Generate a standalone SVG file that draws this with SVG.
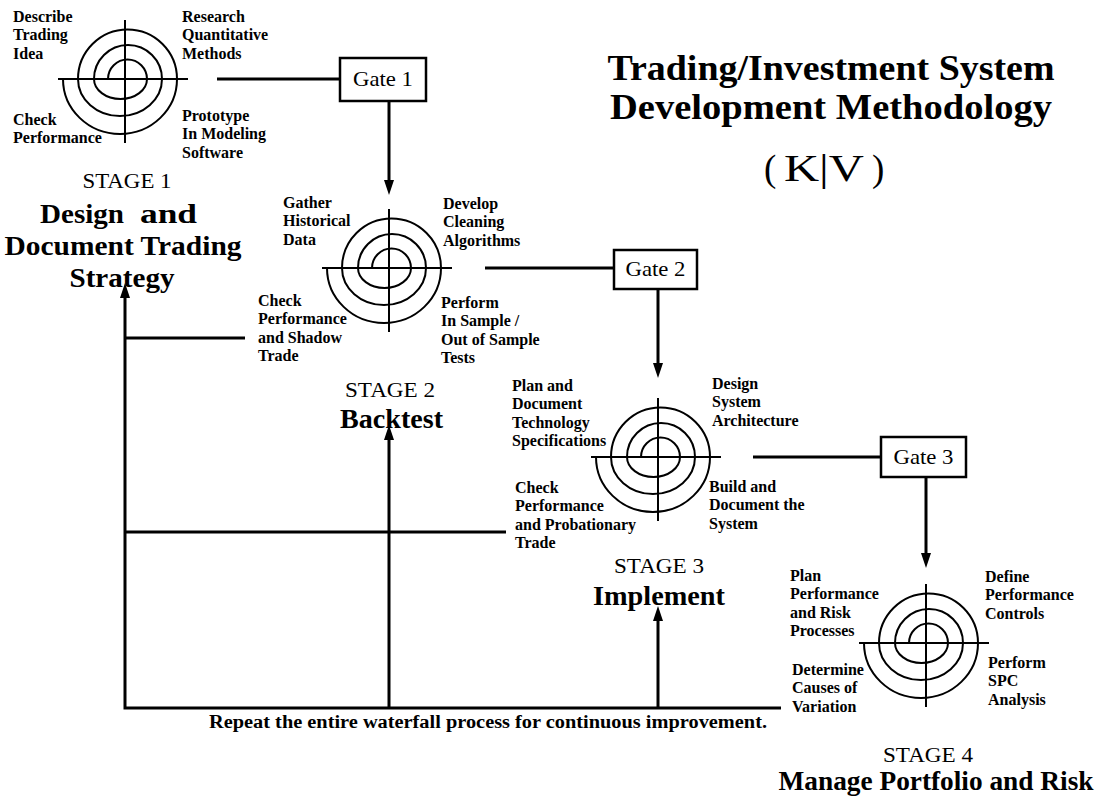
<svg xmlns="http://www.w3.org/2000/svg" xmlns:xlink="http://www.w3.org/1999/xlink" width="1101" height="800" viewBox="0 0 1101 800">
<style>
.lbl{font-family:"Liberation Serif","Times New Roman",serif;font-weight:bold;font-size:16px;fill:#000}
.stg{font-family:"Liberation Serif","Times New Roman",serif;font-size:21px;fill:#000;text-anchor:middle}
.nm{font-family:"Liberation Serif","Times New Roman",serif;font-weight:bold;font-size:28px;fill:#000;text-anchor:middle}
.gt{font-family:"Liberation Serif","Times New Roman",serif;font-size:21px;fill:#000;text-anchor:middle}
.ttl{font-family:"Liberation Serif","Times New Roman",serif;font-weight:bold;font-size:36px;fill:#000;text-anchor:middle}
.kv{font-family:"Liberation Serif","Times New Roman",serif;font-size:37px;fill:#000}
.note{font-family:"Liberation Serif","Times New Roman",serif;font-weight:bold;font-size:18px;fill:#000}
.sp{fill:none;stroke:#000;stroke-width:2}
.box{fill:#fff;stroke:#000;stroke-width:2.5}
.con{fill:none;stroke:#000;stroke-width:3;stroke-linejoin:miter}
.arr{marker-end:url(#ah)}
</style>
<defs>
<marker id="ah" markerUnits="userSpaceOnUse" viewBox="0 0 16 12" markerWidth="16" markerHeight="12" refX="7" refY="6" orient="auto">
<path d="M0,1 L15,6 L0,11 z" fill="#000"/>
</marker>
<g id="spiral">
<path class="sp" d="M-17,0 A19.5,19.5 0 0 1 22,0 A26.5,20 0 0 1 -31,0 A34,34 0 0 1 37,0 A42,37 0 0 1 -47,0 A49.5,49.5 0 0 1 52,0 A57,55 0 0 1 -62,0"/>
<path class="sp" stroke-width="2.5" d="M0,-59 V64 M-67,0 H63"/>
</g>
</defs>
<rect width="1101" height="800" fill="#fff"/>

<g id="title">
<text class="ttl" x="831" y="80" textLength="447" lengthAdjust="spacingAndGlyphs">Trading/Investment System</text>
<text class="ttl" x="831" y="119" textLength="442" lengthAdjust="spacingAndGlyphs">Development Methodology</text>
<text class="kv" y="181"><tspan x="764">(</tspan><tspan x="784" textLength="80" lengthAdjust="spacingAndGlyphs">K|V</tspan><tspan x="872">)</tspan></text>
</g>

<g id="connectors">
<path class="con" d="M217,79 H340"/>
<path class="con arr" d="M389,101 V187"/>
<path class="con" d="M485,268 H614"/>
<path class="con arr" d="M658,289 V370"/>
<path class="con" d="M753,457 H881"/>
<path class="con arr" d="M926,477 V560"/>
<path class="con arr" d="M781,708 H125 V291"/>
<path class="con" d="M125,338 H245"/>
<path class="con" d="M125,532 H506"/>
<path class="con arr" d="M389,708 V433"/>
<path class="con arr" d="M658,708 V614"/>
<text class="note" x="209" y="728" textLength="558" lengthAdjust="spacingAndGlyphs">Repeat the entire waterfall process for continuous improvement.</text>
</g>

<g id="gate1">
<rect class="box" x="340" y="58" width="86" height="43"/>
<text class="gt" x="383" y="86" textLength="60" lengthAdjust="spacingAndGlyphs">Gate 1</text>
</g>
<g id="gate2">
<rect class="box" x="614" y="250" width="83" height="39"/>
<text class="gt" x="655.5" y="276" textLength="60" lengthAdjust="spacingAndGlyphs">Gate 2</text>
</g>
<g id="gate3">
<rect class="box" x="881" y="437" width="85" height="40"/>
<text class="gt" x="923.5" y="464" textLength="60" lengthAdjust="spacingAndGlyphs">Gate 3</text>
</g>

<g id="stage1">
<use xlink:href="#spiral" href="#spiral" x="125" y="79"/>
<text class="lbl" x="13" y="22"><tspan x="13">Describe</tspan><tspan x="13" dy="18.3">Trading</tspan><tspan x="13" dy="18.3">Idea</tspan></text>
<text class="lbl" x="182" y="22"><tspan x="182">Research</tspan><tspan x="182" dy="18.3">Quantitative</tspan><tspan x="182" dy="18.3">Methods</tspan></text>
<text class="lbl" x="13" y="125"><tspan x="13">Check</tspan><tspan x="13" dy="18.3">Performance</tspan></text>
<text class="lbl" x="182" y="121"><tspan x="182">Prototype</tspan><tspan x="182" dy="18.3">In Modeling</tspan><tspan x="182" dy="18.3">Software</tspan></text>
<text class="stg" x="127" y="188" textLength="89" lengthAdjust="spacingAndGlyphs">STAGE 1</text>
<text class="nm" y="223" text-anchor="start" style="text-anchor:start"><tspan x="40" textLength="84" lengthAdjust="spacingAndGlyphs">Design</tspan><tspan x="140" textLength="57" lengthAdjust="spacingAndGlyphs">and</tspan></text>
<text class="nm" x="123" y="255" textLength="237" lengthAdjust="spacingAndGlyphs">Document Trading</text>
<text class="nm" x="122" y="287" textLength="105" lengthAdjust="spacingAndGlyphs">Strategy</text>
</g>

<g id="stage2">
<use xlink:href="#spiral" href="#spiral" x="389" y="268"/>
<text class="lbl" x="283" y="208"><tspan x="283">Gather</tspan><tspan x="283" dy="18.3">Historical</tspan><tspan x="283" dy="18.3">Data</tspan></text>
<text class="lbl" x="443" y="209"><tspan x="443">Develop</tspan><tspan x="443" dy="18.3">Cleaning</tspan><tspan x="443" dy="18.3">Algorithms</tspan></text>
<text class="lbl" x="258" y="306"><tspan x="258">Check</tspan><tspan x="258" dy="18.3">Performance</tspan><tspan x="258" dy="18.3">and Shadow</tspan><tspan x="258" dy="18.3">Trade</tspan></text>
<text class="lbl" x="441" y="308"><tspan x="441">Perform</tspan><tspan x="441" dy="18.3">In Sample /</tspan><tspan x="441" dy="18.3">Out of Sample</tspan><tspan x="441" dy="18.3">Tests</tspan></text>
<text class="stg" x="390" y="397" textLength="90" lengthAdjust="spacingAndGlyphs">STAGE 2</text>
<text class="nm" x="391.5" y="428" textLength="103" lengthAdjust="spacingAndGlyphs">Backtest</text>
</g>

<g id="stage3">
<use xlink:href="#spiral" href="#spiral" x="658" y="457"/>
<text class="lbl" x="512" y="391"><tspan x="512">Plan and</tspan><tspan x="512" dy="18.3">Document</tspan><tspan x="512" dy="18.3">Technology</tspan><tspan x="512" dy="18.3">Specifications</tspan></text>
<text class="lbl" x="712" y="389"><tspan x="712">Design</tspan><tspan x="712" dy="18.3">System</tspan><tspan x="712" dy="18.3">Architecture</tspan></text>
<text class="lbl" x="515" y="493"><tspan x="515">Check</tspan><tspan x="515" dy="18.3">Performance</tspan><tspan x="515" dy="18.3">and Probationary</tspan><tspan x="515" dy="18.3">Trade</tspan></text>
<text class="lbl" x="709" y="492"><tspan x="709">Build and</tspan><tspan x="709" dy="18.3">Document the</tspan><tspan x="709" dy="18.3">System</tspan></text>
<text class="stg" x="659" y="573" textLength="90" lengthAdjust="spacingAndGlyphs">STAGE 3</text>
<text class="nm" x="659" y="605" textLength="132" lengthAdjust="spacingAndGlyphs">Implement</text>
</g>

<g id="stage4">
<use xlink:href="#spiral" href="#spiral" x="926" y="643"/>
<text class="lbl" x="790" y="581"><tspan x="790">Plan</tspan><tspan x="790" dy="18.3">Performance</tspan><tspan x="790" dy="18.3">and Risk</tspan><tspan x="790" dy="18.3">Processes</tspan></text>
<text class="lbl" x="985" y="582"><tspan x="985">Define</tspan><tspan x="985" dy="18.3">Performance</tspan><tspan x="985" dy="18.3">Controls</tspan></text>
<text class="lbl" x="792" y="675"><tspan x="792">Determine</tspan><tspan x="792" dy="18.3">Causes of</tspan><tspan x="792" dy="18.3">Variation</tspan></text>
<text class="lbl" x="988" y="668"><tspan x="988">Perform</tspan><tspan x="988" dy="18.3">SPC</tspan><tspan x="988" dy="18.3">Analysis</tspan></text>
<text class="stg" x="928" y="762" textLength="90" lengthAdjust="spacingAndGlyphs">STAGE 4</text>
<text class="nm" x="936" y="790" textLength="315" lengthAdjust="spacingAndGlyphs">Manage Portfolio and Risk</text>
</g>
</svg>
